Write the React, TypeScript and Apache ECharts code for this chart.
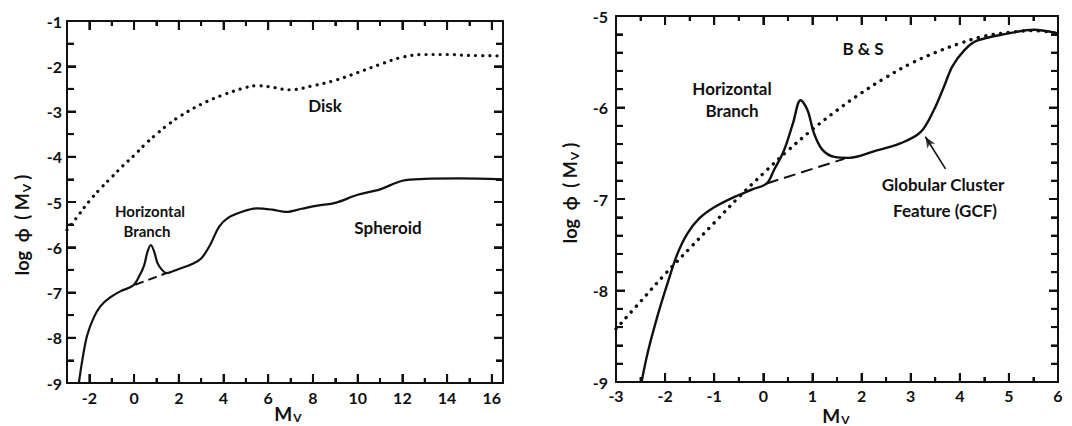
import React, { useEffect, useRef } from "react";
import * as echarts from "echarts";

// ---- Left panel data ----
const diskLeft: [number, number][] = [
  [-3.0, -5.62], [-2.5, -5.3], [-2.0, -4.98], [-1.5, -4.7], [-1.0, -4.45], [-0.5, -4.2],
  [0.0, -3.97], [0.5, -3.72], [1.0, -3.5], [1.5, -3.3], [2.0, -3.12], [3.0, -2.84],
  [4.0, -2.63], [5.0, -2.47], [5.5, -2.43], [6.0, -2.45], [7.0, -2.52], [8.0, -2.43],
  [9.0, -2.31], [10.0, -2.14], [11.0, -1.96], [12.0, -1.8], [13.0, -1.74], [14.0, -1.74],
  [15.0, -1.76], [16.5, -1.77],
];
const spheroidLeft: [number, number][] = [
  [-2.47, -9.0], [-2.3, -8.45], [-2.1, -7.95], [-1.8, -7.55], [-1.5, -7.3], [-1.1, -7.12],
  [-0.6, -6.97], [-0.05, -6.85], [0.25, -6.62], [0.45, -6.4], [0.6, -6.1], [0.75, -5.95],
  [0.9, -6.1], [1.05, -6.35], [1.25, -6.5], [1.45, -6.57], [2.0, -6.48], [2.6, -6.37],
  [3.0, -6.25], [3.4, -5.95], [3.8, -5.55], [4.2, -5.35], [4.8, -5.22], [5.5, -5.14],
  [6.2, -5.17], [6.8, -5.22], [7.5, -5.15], [8.2, -5.08], [9.0, -5.02], [10.0, -4.84],
  [11.0, -4.72], [12.0, -4.53], [13.0, -4.49], [14.5, -4.48], [16.5, -4.5],
];
const dashLeft: [number, number][] = [[0.05, -6.83], [1.45, -6.57]];
const leftXMajor = [-2, 0, 2, 4, 6, 8, 10, 12, 14, 16];
const leftXMinor = [-3, -1, 1, 3, 5, 7, 9, 11, 13, 15];
const leftYMajor = [-9, -8, -7, -6, -5, -4, -3, -2, -1];
const leftYMinor = [-8.5, -7.5, -6.5, -5.5, -4.5, -3.5, -2.5, -1.5];

// ---- Right panel data ----
const bsRight: [number, number][] = [
  [-3.0, -8.42], [-2.5, -8.12], [-2.0, -7.82], [-1.5, -7.54], [-1.0, -7.26], [-0.5, -6.98],
  [0.0, -6.72], [0.5, -6.47], [1.0, -6.24], [1.5, -6.03], [2.0, -5.84], [2.5, -5.67],
  [3.0, -5.52], [3.5, -5.4], [4.0, -5.3], [4.5, -5.22], [5.0, -5.18], [5.5, -5.16], [6.0, -5.19],
];
const solidRight: [number, number][] = [
  [-2.48, -9.0], [-2.35, -8.67], [-2.15, -8.27], [-1.95, -7.92], [-1.75, -7.6], [-1.55, -7.38],
  [-1.3, -7.21], [-1.0, -7.09], [-0.6, -6.98], [-0.2, -6.89], [0.07, -6.83], [0.22, -6.68],
  [0.42, -6.47], [0.6, -6.18], [0.76, -5.92], [0.9, -6.03], [1.03, -6.28], [1.2, -6.46],
  [1.45, -6.54], [1.75, -6.55], [2.25, -6.48], [2.8, -6.39], [3.2, -6.27], [3.47, -6.03],
  [3.68, -5.77], [3.85, -5.55], [4.1, -5.37], [4.35, -5.27], [5.0, -5.19], [5.5, -5.15],
  [6.0, -5.19],
];
const dashRight: [number, number][] = [[0.07, -6.83], [1.65, -6.56]];
const arrowShaft: [number, number][] = [[3.71, -6.67], [3.3, -6.32]];
const arrowHead: [number, number][] = [[3.3, -6.32]];
const rightXMajor = [-3, -2, -1, 0, 1, 2, 3, 4, 5, 6];
const rightXMinor = [-2.5, -1.5, -0.5, 0.5, 1.5, 2.5, 3.5, 4.5, 5.5];
const rightYMajor = [-9, -8, -7, -6, -5];
const rightYMinor = [
  -8.8, -8.6, -8.4, -8.2, -7.8, -7.6, -7.4, -7.2, -6.8, -6.6, -6.4, -6.2, -5.8, -5.6, -5.4, -5.2,
];

const FONT = "Lato";
const BLACK = "#111";

const ts = () => ({ color: BLACK, width: 2 });
const lbl = (margin: number) => ({ show: true, color: BLACK, fontFamily: FONT, fontWeight: "bold", fontSize: 16, margin });

function ax(gridIndex: number, position: string, min: number, max: number, o: any) {
  return {
    type: "value", gridIndex, position, min, max,
    splitLine: { show: false },
    axisLine: { show: o.line !== false, onZero: false, lineStyle: { color: BLACK, width: 2 } },
    axisTick: o.tickValues
      ? { show: true, inside: true, length: o.len, customValues: o.tickValues, lineStyle: ts() }
      : { show: true, inside: true, length: o.len, lineStyle: ts() },
    ...(o.interval ? { interval: o.interval } : {}),
    ...(o.minor ? { minorTick: { show: true, splitNumber: o.minor, length: o.minorLen, lineStyle: ts() } } : {}),
    axisLabel: o.labels
      ? (o.labelValues ? { ...lbl(o.margin), customValues: o.labelValues } : { ...lbl(o.margin), showMinLabel: true, showMaxLabel: true })
      : { show: false },
  };
}

// tick items: [x, y, kind (0 = x tick, 1 = y tick), major (1/0)]
function tickItems(xMaj: number[], xMin: number[], yMaj: number[], yMin: number[], x0: number, y0: number) {
  return [
    ...xMaj.map((v) => [v, y0, 0, 1]),
    ...xMin.map((v) => [v, y0, 0, 0]),
    ...yMaj.map((v) => [x0, v, 1, 1]),
    ...yMin.map((v) => [x0, v, 1, 0]),
  ];
}

function renderTick(params: any, api: any) {
  const cs = params.coordSys;
  const p = api.coord([api.value(0), api.value(1)]);
  const kind = api.value(2);
  const major = api.value(3);
  const st = { stroke: BLACK, lineWidth: 2 };
  if (kind === 0) {
    const len = major ? 9 : 5;
    const b = cs.y + cs.height;
    const t = cs.y;
    return {
      type: "group",
      children: [
        { type: "line", shape: { x1: p[0], y1: b, x2: p[0], y2: b - len }, style: st },
        { type: "line", shape: { x1: p[0], y1: t, x2: p[0], y2: t + len }, style: st },
      ],
    };
  }
  const len = major ? 9 : 7;
  const l = cs.x;
  const r = cs.x + cs.width;
  return {
    type: "group",
    children: [
      { type: "line", shape: { x1: l, y1: p[1], x2: l + len, y2: p[1] }, style: st },
      { type: "line", shape: { x1: r, y1: p[1], x2: r - len, y2: p[1] }, style: st },
    ],
  };
}

export default function App() {
  const ref = useRef<HTMLDivElement>(null);
  useEffect(() => {
    if (!ref.current) return;
    const chart = echarts.init(ref.current, null, { renderer: "svg" });
    const richAxis = (size: number) => ({
      m: { fontFamily: FONT, fontWeight: "bold", fontSize: size, fill: BLACK },
      s: { fontFamily: FONT, fontWeight: "bold", fontSize: 12, fill: BLACK, padding: [9, 0, 0, 1] },
    });
    const txt = (x: number, y: number, text: string, size: number) => ({
      type: "text", x, y,
      style: { text, fill: BLACK, font: `bold ${size}px "${FONT}"`, align: "center", verticalAlign: "middle" },
    });
    const option: any = {
      animation: false,
      grid: [
        { left: 67, top: 21, width: 436, height: 362 },
        { left: 616, top: 16, width: 442, height: 366 },
      ],
      xAxis: [
        ax(0, "bottom", -3, 16.5, { len: 9, tickValues: leftXMajor, labels: true, labelValues: leftXMajor, margin: 6 }),
        ax(0, "bottom", -3, 16.5, { len: 5, tickValues: leftXMinor, line: false }),
        ax(0, "top", -3, 16.5, { len: 9, tickValues: leftXMajor }),
        ax(0, "top", -3, 16.5, { len: 5, tickValues: leftXMinor, line: false }),
        ax(1, "bottom", -3, 6, { len: 9, interval: 1, minor: 2, minorLen: 5, labels: true, margin: 5 }),
        ax(1, "top", -3, 6, { len: 9, interval: 1, minor: 2, minorLen: 5 }),
      ],
      yAxis: [
        ax(0, "left", -9, -1, { len: 9, interval: 1, minor: 2, minorLen: 7, labels: true, margin: 5 }),
        ax(0, "right", -9, -1, { len: 9, interval: 1, minor: 2, minorLen: 7 }),
        ax(1, "left", -9, -5, { len: 9, interval: 1, minor: 5, minorLen: 7, labels: true, margin: 8 }),
        ax(1, "right", -9, -5, { len: 9, interval: 1, minor: 5, minorLen: 7 }),
      ],
      series: [
        {
          type: "custom", xAxisIndex: 0, yAxisIndex: 0, clip: false, silent: true, z: 5,
          data: tickItems(leftXMajor, leftXMinor, leftYMajor, leftYMinor, -3, -9),
          renderItem: renderTick,
        },
        {
          type: "custom", xAxisIndex: 4, yAxisIndex: 2, clip: false, silent: true, z: 5,
          data: tickItems(rightXMajor, rightXMinor, rightYMajor, rightYMinor, -3, -9),
          renderItem: renderTick,
        },
        {
          type: "line", xAxisIndex: 0, yAxisIndex: 0, data: diskLeft, showSymbol: false, smooth: 0.4,
          lineStyle: { color: BLACK, width: 3.2, type: [0.1, 7], cap: "round" },
        },
        {
          type: "line", xAxisIndex: 0, yAxisIndex: 0, data: spheroidLeft, showSymbol: false, smooth: 0.35,
          lineStyle: { color: BLACK, width: 2.2 },
        },
        {
          type: "line", xAxisIndex: 0, yAxisIndex: 0, data: dashLeft, showSymbol: false,
          lineStyle: { color: BLACK, width: 2, type: [9, 5] },
        },
        {
          type: "line", xAxisIndex: 4, yAxisIndex: 2, data: bsRight, showSymbol: false, smooth: 0.4,
          lineStyle: { color: BLACK, width: 3.4, type: [0.1, 7.5], cap: "round" },
        },
        {
          type: "line", xAxisIndex: 4, yAxisIndex: 2, data: solidRight, showSymbol: false, smooth: 0.35,
          lineStyle: { color: BLACK, width: 2.4 },
        },
        {
          type: "line", xAxisIndex: 4, yAxisIndex: 2, data: dashRight, showSymbol: false,
          lineStyle: { color: BLACK, width: 2, type: [12, 6] },
        },
        {
          type: "line", xAxisIndex: 4, yAxisIndex: 2, data: arrowShaft, showSymbol: false,
          lineStyle: { color: BLACK, width: 1.6 },
        },
        {
          type: "scatter", xAxisIndex: 4, yAxisIndex: 2, data: arrowHead, symbol: "arrow",
          symbolSize: [7, 11], symbolRotate: 32, symbolOffset: [0, 0],
          itemStyle: { color: BLACK }, silent: true,
        },
      ],
      graphic: [
        txt(325, 105, "Disk", 17),
        txt(388, 227, "Spheroid", 17),
        txt(150, 211, "Horizontal", 15),
        txt(147, 231, "Branch", 15),
        txt(863, 48, "B & S", 17),
        txt(732, 88, "Horizontal", 17),
        txt(732, 110, "Branch", 17),
        txt(943, 184, "Globular Cluster", 17),
        txt(945, 210, "Feature (GCF)", 17),
        { type: "text", x: 288, y: 413, style: { text: "{m|M}{s|V}", align: "center", verticalAlign: "middle", rich: richAxis(19) } },
        { type: "text", x: 836, y: 415, style: { text: "{m|M}{s|V}", align: "center", verticalAlign: "middle", rich: richAxis(19) } },
        { type: "text", x: 22, y: 225, rotation: Math.PI / 2, style: { text: "{m|log  ϕ  ( M}{s|V}{m| )}", align: "center", verticalAlign: "middle", rich: richAxis(18) } },
        { type: "text", x: 570, y: 193, rotation: Math.PI / 2, style: { text: "{m|log  ϕ  ( M}{s|V}{m| )}", align: "center", verticalAlign: "middle", rich: richAxis(18) } },
      ],
    };
    chart.setOption(option);
    return () => chart.dispose();
  }, []);
  return (
    <div
      ref={ref}
      style={{ position: "fixed", left: 0, top: 0, width: 1072, height: 426, background: "#fff" }}
    />
  );
}
